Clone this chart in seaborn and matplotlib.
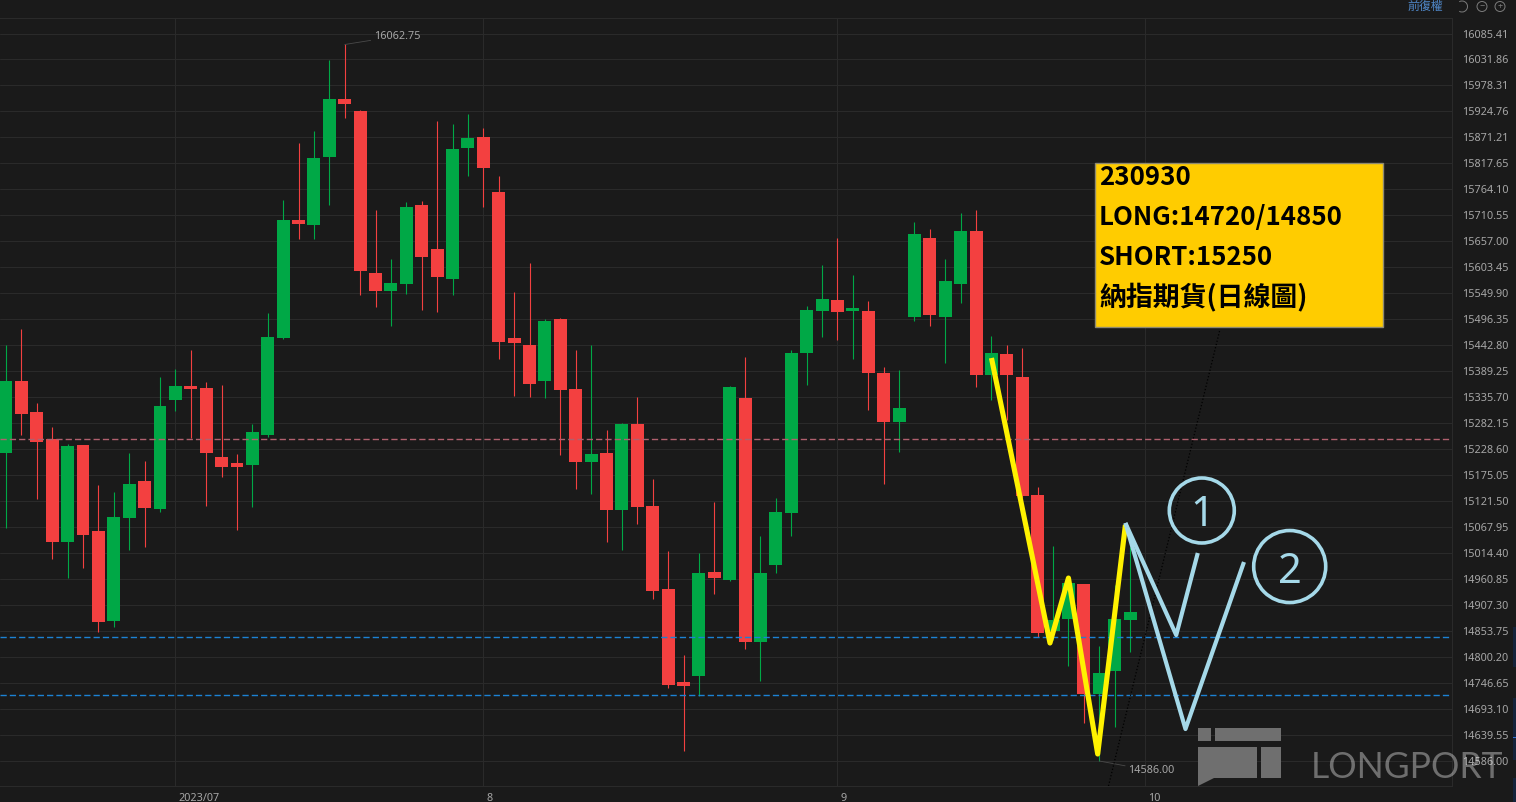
import numpy as np
import pandas as pd
import matplotlib
matplotlib.use("Agg")
import matplotlib.pyplot as plt
import seaborn as sns
from matplotlib.patches import Rectangle, Circle, Polygon, Arc
from matplotlib.transforms import Affine2D

# daily candles, values
opens = [15221.4, 15369.2, 15305.3, 15249.0, 15038.0, 15237.3, 15060.0, 14874.5, 15087.4, 15163.1,
         15106.0, 15330.6, 15358.9, 15354.8, 15212.5, 15200.2, 15196.7, 15257.9, 15457.8, 15701.0,
         15690.7, 15830.9, 15950.4, 15925.7, 15591.8, 15554.7, 15569.1, 15731.9, 15641.2, 15579.4,
         15849.4, 15872.1, 15758.7, 15457.8, 15443.4, 15369.2, 15497.0, 15352.7, 15202.2, 15220.8,
         15103.3, 15280.6, 15111.5, 14940.5, 14748.8, 14761.2, 14975.5, 14959.0, 15334.1, 14831.2,
         14989.9, 15097.1, 15426.9, 15513.5, 15536.1, 15513.5, 15513.5, 15385.7, 15284.7, 15501.1,
         15663.9, 15501.1, 15569.1, 15678.4, 15381.6, 15424.8, 15377.4, 15134.2, 14853.9, 14878.6,
         14950.8, 14724.1, 14771.5, 14876.6]
highs = [15443.4, 15476.4, 15323.2, 15274.4, 15238.7, 15237.3, 15154.8, 15140.4, 15220.2, 15204.3,
         15377.4, 15393.3, 15432.5, 15367.1, 15360.9, 15218.7, 15280.6, 15508.7, 15742.2, 15859.7,
         15884.5, 16030.8, 16062.75, 15927.7, 15721.6, 15620.6, 15738.1, 15740.2, 15905.1, 15898.9,
         15919.5, 15890.6, 15791.7, 15552.6, 15612.4, 15497.0, 15499.0, 15433.1, 15443.4, 15268.2,
         15282.6, 15336.2, 15167.2, 15018.8, 14804.4, 15014.7, 15119.8, 15358.9, 15418.6, 15049.7,
         15128.0, 15433.1, 15523.8, 15608.3, 15663.9, 15587.7, 15534.1, 15398.0, 15391.9, 15696.9,
         15682.5, 15620.6, 15715.5, 15721.6, 15461.9, 15443.4, 15437.2, 15150.7, 15029.1, 14965.2,
         14950.8, 14823.0, 14948.7, 15027.0]
lows = [15066.8, 15257.9, 15126.6, 15002.9, 14963.8, 14984.4, 14852.5, 14862.8, 15021.5, 15027.7,
        15099.8, 15308.0, 15252.3, 15112.2, 15171.9, 15062.7, 15110.1, 15254.4, 15455.8, 15661.9,
        15661.9, 15731.9, 15911.9, 15546.4, 15521.7, 15483.2, 15548.5, 15515.5, 15511.4, 15546.4,
        15791.7, 15727.8, 15414.5, 15338.9, 15336.2, 15334.8, 15216.7, 15146.6, 15136.3, 15037.3,
        15020.9, 15074.4, 14919.9, 14736.4, 14606.6, 14719.9, 14930.2, 14957.0, 14816.8, 14750.9,
        14973.5, 15049.7, 15360.9, 15459.9, 15453.7, 15414.5, 15309.4, 15156.9, 15222.8, 15492.9,
        15482.5, 15406.3, 15530.0, 15356.8, 15330.0, 15288.8, 15128.0, 14842.2, 14835.4, 14781.8,
        14664.3, 14586.0, 14656.0, 14810.6]
closes = [15369.2, 15301.8, 15244.1, 15038.0, 15235.2, 15051.8, 14873.1, 15088.9, 15156.9, 15108.0,
          15317.7, 15358.9, 15352.7, 15221.4, 15192.6, 15192.6, 15264.1, 15459.9, 15701.0, 15693.4,
          15828.8, 15950.4, 15940.1, 15595.9, 15554.7, 15571.2, 15727.8, 15624.8, 15583.5, 15847.4,
          15870.0, 15808.2, 15449.6, 15447.5, 15363.0, 15492.9, 15350.6, 15202.2, 15218.7, 15103.3,
          15280.6, 15109.5, 14936.4, 14742.6, 14740.6, 14973.5, 14963.1, 15356.8, 14831.2, 14973.5,
          15099.2, 15426.9, 15515.5, 15538.2, 15511.4, 15519.6, 15385.7, 15284.7, 15313.5, 15672.2,
          15505.2, 15575.3, 15678.4, 15381.6, 15426.9, 15381.6, 15132.2, 14849.8, 14876.6, 14952.8,
          14724.1, 14767.3, 14878.6, 14893.1]

price_ticks = ["16085.41", "16031.86", "15978.31", "15924.76", "15871.21", "15817.65", "15764.10",
               "15710.55", "15657.00", "15603.45", "15549.90", "15496.35", "15442.80", "15389.25",
               "15335.70", "15282.15", "15228.60", "15175.05", "15121.50", "15067.95", "15014.40",
               "14960.85", "14907.30", "14853.75", "14800.20", "14746.65", "14693.10", "14639.55",
               "14586.00"]
date_pos = [11, 31, 54, 74]
date_labels = ["2023/07", "8", "9", "10"]

short_level = 15250
long_levels = [14842, 14723]

# hand drawn lines on top of the chart
yellow_x = [64.0, 67.8, 69.0, 70.9, 72.7]
yellow_y = [15416.6, 14829.2, 14963.1, 14600.4, 15072.4]
path1_x = [72.7, 76.0, 77.4]
path1_y = [15076.5, 14845.6, 15014.7]
path2_x = [72.7, 76.6, 80.4]
path2_y = [15076.5, 14651.9, 14996.1]
trend_x = [71.6, 78.83]
trend_y = [14534.5, 15474.3]
circle_x = [77.66, 83.37]
circle_y = [15102.3, 14986.8]
circle_labels = ["1", "2"]

note_lines = ["230930", "LONG:14720/14850", "SHORT:15250", "納指期貨(日線圖)"]
note_sizes = [18.6, 18.6, 18.6, 19.4]

BG = "#1a1a1a"
GRID = "#2a2a2a"
RED = "#f34040"
GREEN = "#00a846"
SKY = "#a5d9e9"
TICK = "#a6a6a6"
W, H = 1516, 802

sns.set_theme(style="dark", rc={"axes.facecolor": BG, "figure.facecolor": BG})
plt.rcParams["font.family"] = ["Noto Sans", "DejaVu Sans"]

fig = plt.figure(figsize=(W / 100, H / 100), dpi=100)
ax = fig.add_axes([0, 16 / H, 1452 / W, 768 / H])
px = Affine2D().scale(1, -1).translate(0, H)

df = pd.DataFrame({"open": opens, "high": highs, "low": lows, "close": closes})
df["x"] = df.index
df["color"] = np.where(df["close"] >= df["open"], GREEN, RED)

ax.vlines(df["x"], df["low"], df["high"], color=df["color"], lw=0.8, zorder=3)
ax.bar(df["x"], (df["close"] - df["open"]).abs(), bottom=df[["open", "close"]].min(axis=1),
       width=0.84, color=df["color"], linewidth=0, zorder=4)

ax.axhline(short_level, color="#b0606e", lw=1, dashes=(4.5, 2.2), zorder=5)
for level in long_levels:
    ax.axhline(level, color="#1c82d4", lw=1, dashes=(4.5, 2.2), zorder=5)

sns.lineplot(x=trend_x, y=trend_y, color="black", lw=0.9, ls=":", ax=ax, zorder=5)
sns.lineplot(x=yellow_x, y=yellow_y, color="#fff200", lw=3.7, sort=False, estimator=None, ax=ax, zorder=7,
             solid_joinstyle="round", solid_capstyle="butt")
sns.lineplot(x=path1_x, y=path1_y, color=SKY, lw=3, sort=False, estimator=None, ax=ax, zorder=8,
             solid_joinstyle="round", solid_capstyle="butt")
sns.lineplot(x=path2_x, y=path2_y, color=SKY, lw=3, sort=False, estimator=None, ax=ax, zorder=8,
             solid_joinstyle="round", solid_capstyle="butt")

ax.scatter(circle_x, circle_y, s=[2190, 2690], facecolors="none", edgecolors=SKY, linewidths=2.6, zorder=8)
for cx, cy, lab in zip(circle_x, circle_y, circle_labels):
    ax.text(cx, cy, lab, color=SKY, fontsize=30, ha="center", va="center_baseline", zorder=9)

ax.set_xlim(-0.39, 93.91)
ax.set_ylim(14534.47, 16117.36)

ax.yaxis.tick_right()
ax.set_yticks([float(t) for t in price_ticks])
ax.set_yticklabels(price_ticks)
ax.set_xticks(date_pos)
ax.set_xticklabels([])
ax.tick_params(axis="y", length=0, pad=7, labelsize=7.8, labelcolor=TICK)
ax.tick_params(axis="x", length=0)
ax.grid(True, color=GRID, lw=0.75)
ax.set_axisbelow(True)
ax.spines["left"].set_visible(False)
for side in ["top", "right", "bottom"]:
    ax.spines[side].set_color(GRID)
    ax.spines[side].set_linewidth(0.75)
ax.set_xlabel("")
ax.set_ylabel("")

for pos, lab in zip(date_pos, date_labels):
    ax.annotate(lab, (pos, 0), xycoords=("data", "axes fraction"), xytext=(2, -9), textcoords="offset points",
                color=TICK, fontsize=7.8, ha="left", va="center")

# high and low labels with their leader lines
ax.annotate("16062.75", (22, 16062.75), xytext=(21, 6), textcoords="offset points", color=TICK,
            fontsize=7.8, va="center", arrowprops=dict(arrowstyle="-", color="#4a4a4a", lw=0.6, shrinkA=0, shrinkB=0))
ax.annotate("14586.00", (71, 14586), xytext=(21, -7), textcoords="offset points", color=TICK,
            fontsize=7.8, va="center", arrowprops=dict(arrowstyle="-", color="#4a4a4a", lw=0.6, shrinkA=0, shrinkB=0))

# note box
fig.add_artist(Rectangle((1095, 163), 287.5, 163.5, transform=px, facecolor="#ffcc00", edgecolor="#8f8a70", lw=1, zorder=10))
for yy, line, size in zip([177.5, 217.5, 257.5, 297], note_lines, note_sizes):
    fig.text(1099, yy, line, transform=px, color="black", fontsize=size, va="center", ha="left", zorder=11,
             family=["Noto Sans CJK TC", "DejaVu Sans"], weight="bold")

# watermark, see-through so the last price tick still shows under it
LOGO = "#6f6f6f"
fig.add_artist(Rectangle((1198, 728), 13, 13, transform=px, color=LOGO, lw=0, zorder=12))
fig.add_artist(Rectangle((1215, 728), 66, 13, transform=px, color=LOGO, lw=0, zorder=12))
fig.add_artist(Polygon([(1198, 747), (1257, 747), (1257, 778), (1214, 778), (1198, 786)], closed=True,
                       transform=px, color=LOGO, lw=0, zorder=12))
fig.add_artist(Rectangle((1261, 747), 20, 31, transform=px, color=LOGO, lw=0, zorder=12))
fig.text(1311, 768, "LONGPORT", transform=px, color="white", alpha=0.37, fontsize=25.6, va="center", ha="left",
         family="Lato", zorder=12)

# toolbar
fig.text(1425, 6, "前復權", transform=px, color="#4f86c6", fontsize=8.6, ha="center", va="center",
         family=["Noto Sans CJK TC", "DejaVu Sans"])
ICON = "#7c7c7c"
fig.add_artist(Arc((1462, 6.5), 11, 11, theta1=-120, theta2=120, transform=px, color=ICON, lw=0.7))
fig.add_artist(Circle((1482, 6.5), 5, transform=px, fill=False, edgecolor=ICON, lw=0.7))
fig.add_artist(Circle((1500, 6.5), 5, transform=px, fill=False, edgecolor=ICON, lw=0.7))
fig.text(1482, 6.5, "−", transform=px, color=ICON, fontsize=6.5, ha="center", va="center")
fig.text(1500, 6.5, "+", transform=px, color=ICON, fontsize=6.5, ha="center", va="center")

# strip along the right edge
for top, bottom in [(627, 667), (698, 760), (778, 802)]:
    fig.add_artist(Rectangle((1513, top), 3, bottom - top, transform=px, color="#15233a", lw=0))
fig.add_artist(Rectangle((1513, 736.5), 3, 1, transform=px, color="#2f6fd0", lw=0))

fig.savefig("out.png", dpi=100, facecolor=BG)
